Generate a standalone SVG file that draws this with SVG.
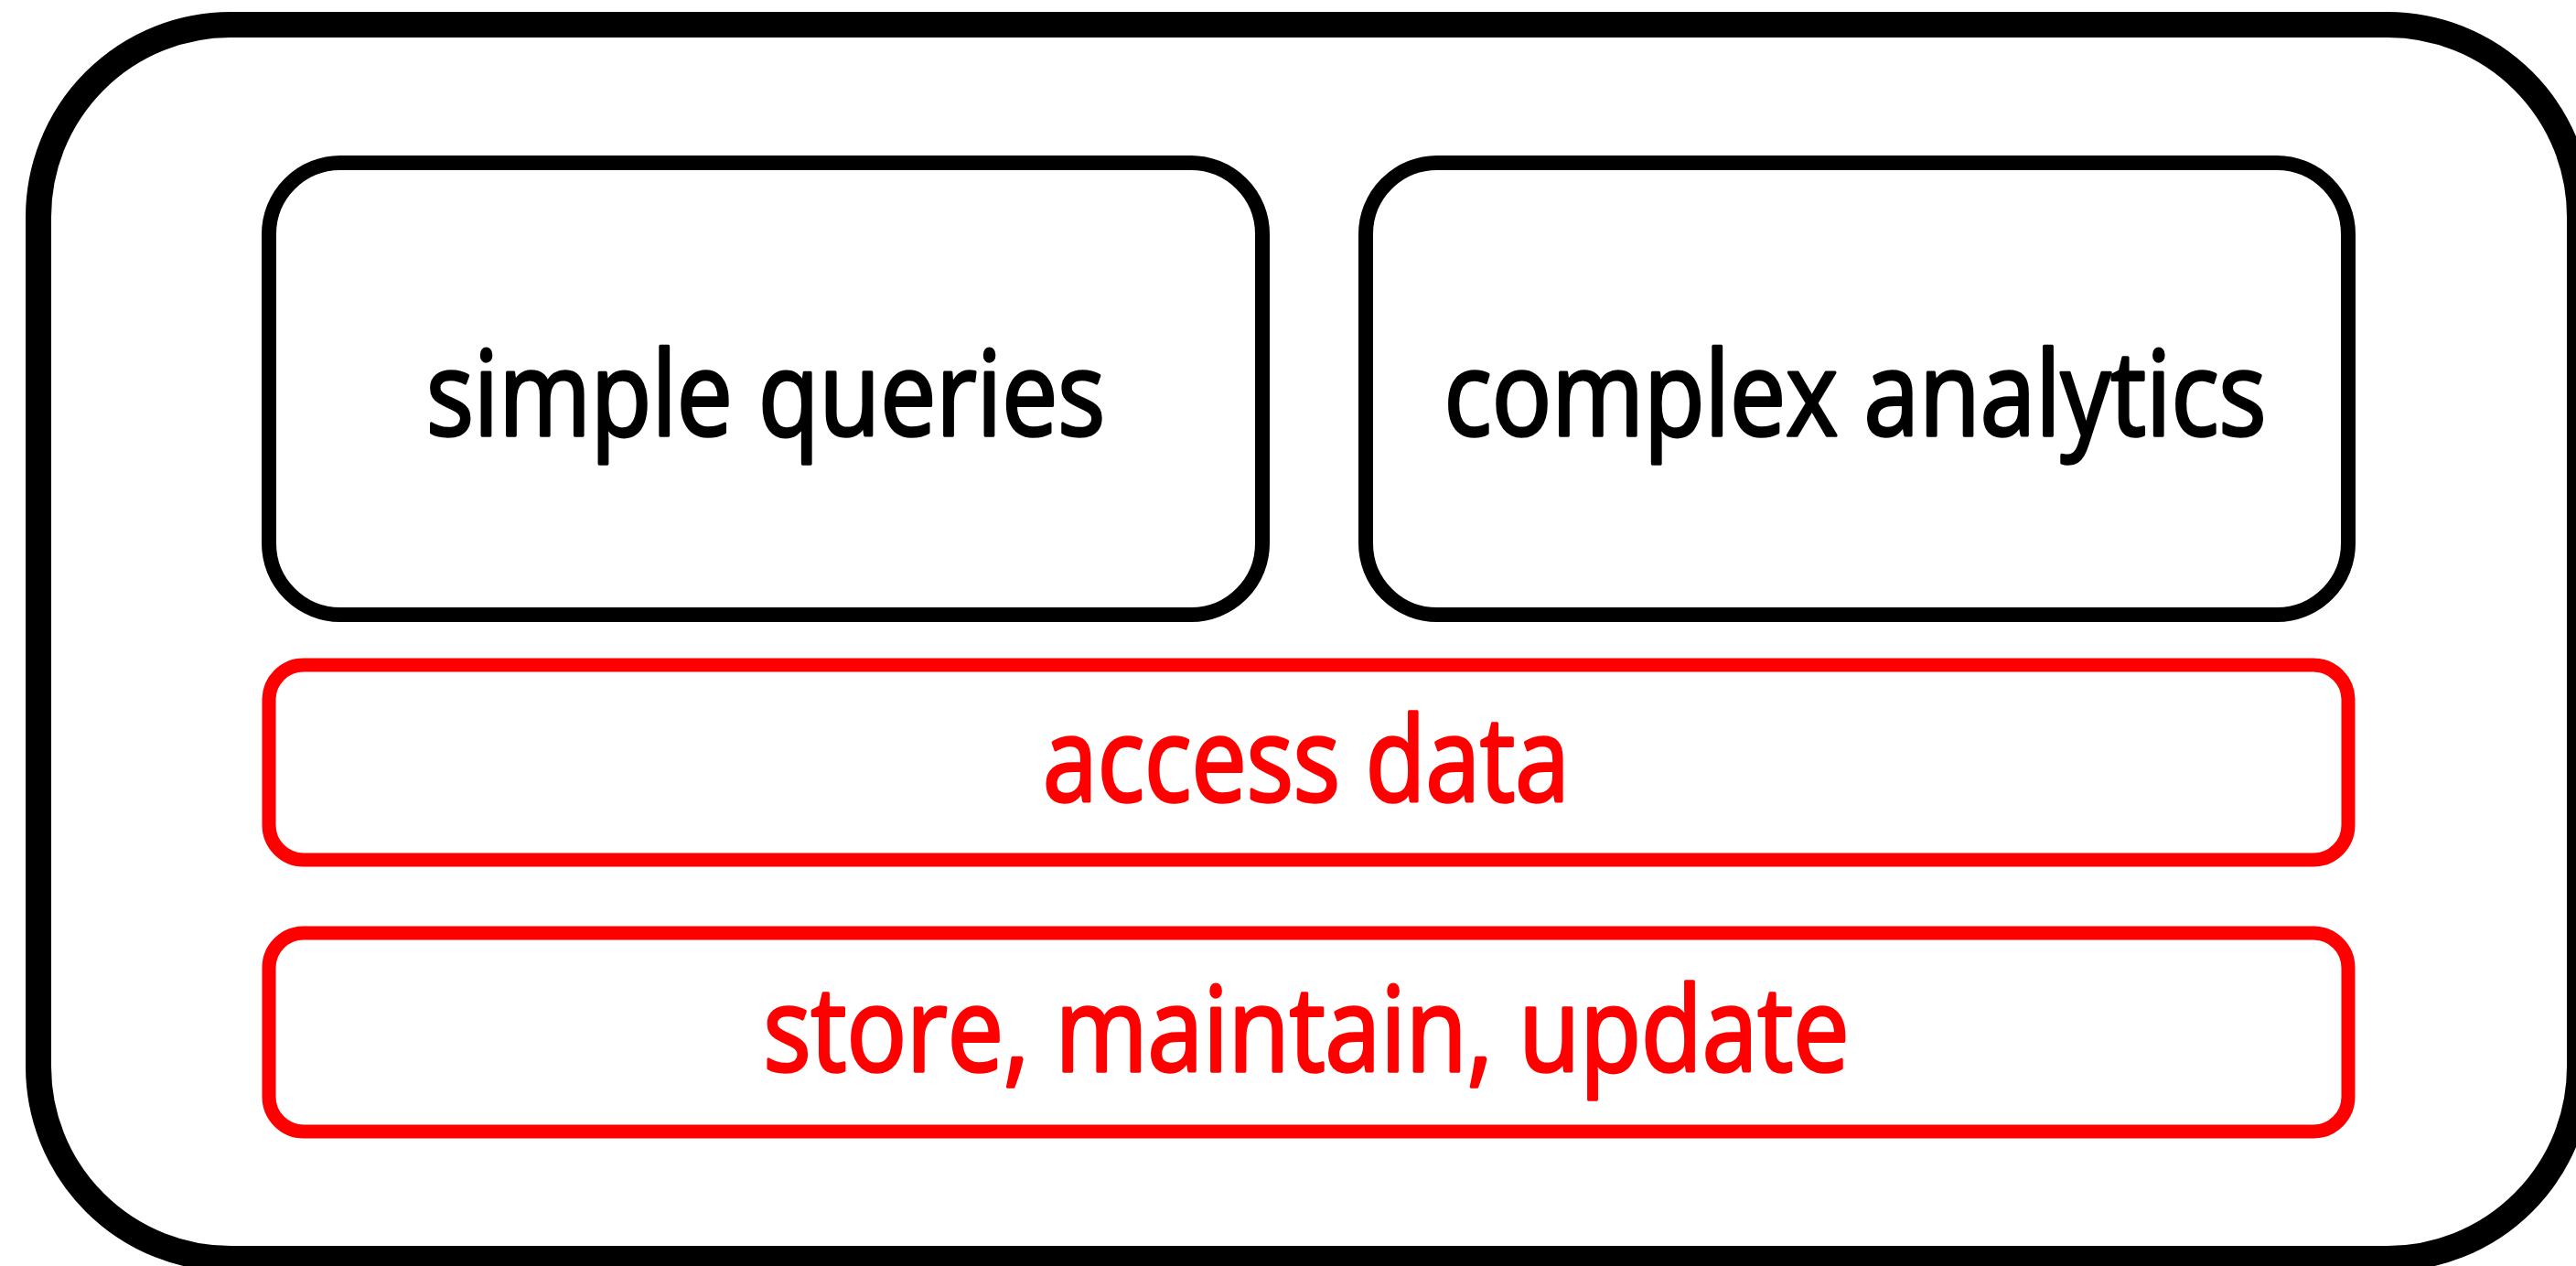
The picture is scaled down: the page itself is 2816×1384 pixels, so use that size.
<svg xmlns="http://www.w3.org/2000/svg" width="2816" height="1384" viewBox="0 0 2816 1384">
<style>
.outer{fill:#fff;stroke:#000;stroke-width:28}
.blk{fill:none;stroke:#000;stroke-width:16}
.red{fill:none;stroke:#ff0000;stroke-width:15}
.t{font-family:"Open Sans",Lato,"Liberation Sans",sans-serif;font-size:128px;text-anchor:middle;font-variant-ligatures:none;stroke-width:3.5;stroke-linejoin:round}
.tb{fill:#000;stroke:#000}
.tr{fill:#ff0000;stroke:#ff0000}
</style>
<rect x="0" y="0" width="2816" height="1384" fill="#fff"/>
<g id="container">
<rect class="outer" x="42" y="27" width="2778" height="1349" rx="210" ry="210"/>
</g>
<g id="simple-queries">
<rect class="blk" x="294" y="178" width="1086" height="494" rx="78" ry="78"/>
<text class="t tb" x="837" y="476" textLength="742" lengthAdjust="spacingAndGlyphs">simple queries</text>
</g>
<g id="complex-analytics">
<rect class="blk" x="1493" y="178" width="1074" height="494" rx="78" ry="78"/>
<text class="t tb" x="2028" y="476" textLength="899" lengthAdjust="spacingAndGlyphs">complex analytics</text>
</g>
<g id="access-data">
<rect class="red" x="294" y="727" width="2273" height="213" rx="38" ry="38"/>
<text class="t tr" x="1428" y="876" textLength="576" lengthAdjust="spacingAndGlyphs">access data</text>
</g>
<g id="store-maintain-update">
<rect class="red" x="294" y="1020" width="2273" height="217" rx="38" ry="38"/>
<text class="t tr" x="1428" y="1171" textLength="1187" lengthAdjust="spacingAndGlyphs">store, maintain, update</text>
</g>
<g id="connectors"></g>
</svg>
